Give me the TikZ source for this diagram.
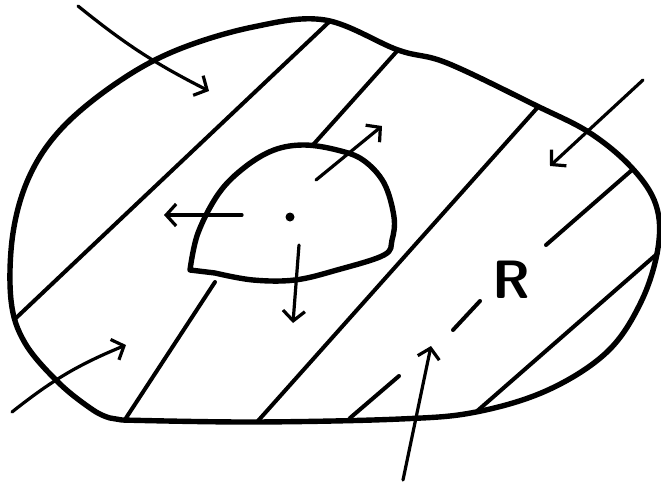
\documentclass[tikz,border=0pt]{standalone}
\usetikzlibrary{arrows.meta}
\tikzset{
  rim/.style={line width=5.4pt, line join=round, line cap=round},
  hatch/.style={line width=4pt, line cap=round},
  push/.style={line width=3.2pt, line cap=round,
               -{Straight Barb[length=10pt,width=22pt,line width=3.2pt]}},
  lbl/.style={font=\sffamily\bfseries\fontsize{54}{54}\selectfont, inner sep=0pt}
}
\begin{document}
\begin{tikzpicture}[x=1pt,y=-1pt]
  \useasboundingbox (0,0) rectangle (661,483);

  % outer boundary of the region
  \draw[rim] plot[smooth, tension=0.6] coordinates {
      (122,420) (253,422) (400,419) (476,412) (548,390) (607,352)
      (641,302) (658,248) (656,205) (632,168) (590,133) (535,105)
      (447,63) (398,50) (325,20) (253,27) (177,50) (118,82) (63,127)
      (30,175) (13,233) (11,300) (25,343) (59,383) (93,410) (110,418)}
    -- cycle;

  % the hole
  \draw[rim] plot[smooth, tension=0.6] coordinates {
      (190,270) (198,233) (219,193) (245,167) (274,150) (304,145)
      (337,150) (363,160) (384,183) (394,217) (392,240) (384,255)
      (337,270) (295,280) (253,280) (215,273)} -- cycle;

  % hatching
  \draw[hatch] (16,318) -- (329,22);
  \draw[hatch] (126,418) -- (215,282);
  \draw[hatch] (312,146) -- (398,50);
  \draw[hatch] (257,422) -- (538,107);
  \draw[hatch] (350,418) -- (399,376);
  \draw[hatch] (453,330) -- (480,301);
  \draw[hatch] (546,245) -- (632,170);
  \draw[hatch] (476,412) -- (658,253);

  \node[lbl] (R) at (511,280) {R};
  \fill (290,217) circle (4.5pt);

  % loads on the outer boundary
  \draw[push] (78,6) to[bend right=6] (209,91);
  \draw[push] (643,80) -- (550,166);
  \draw[push] (12,412) to[bend left=8] (126,345);
  \draw[push] (403,480) -- (431,346);

  % loads from the hole
  \draw[push] (242,215) -- (164,215);
  \draw[push] (316,180) -- (382,126);
  \draw[push] (299,245) -- (293,323);
\end{tikzpicture}
\end{document}
